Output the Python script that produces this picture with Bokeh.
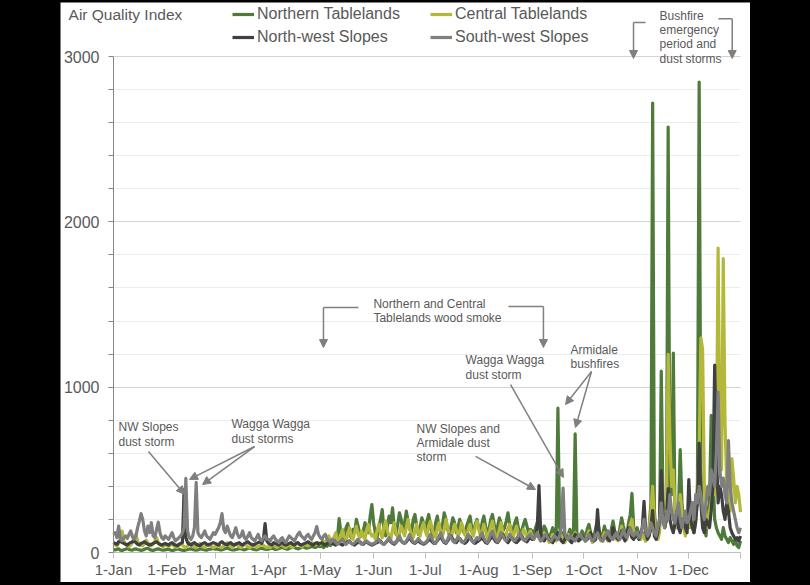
from bokeh.plotting import figure
from bokeh.models import (Range1d, FixedTicker, Legend, LegendItem, Label, Arrow,
                          NormalHead)
from bokeh.embed import file_html
from bokeh.resources import INLINE

# ---------------- data ----------------
MONTH_STARTS = [0, 31, 59, 90, 120, 151, 181, 212, 243, 273, 304, 334]
MONTH_LABELS = ["1-Jan", "1-Feb", "1-Mar", "1-Apr", "1-May", "1-Jun",
                "1-Jul", "1-Aug", "1-Sep", "1-Oct", "1-Nov", "1-Dec"]
YEAR_END = 364
Y_TICKS = [0, 1000, 2000, 3000]

NORTHERN_TABLELANDS = [
    [18,15,20,22,14,12,16,20,25,18,15,14,20,22,18,16,12,15,20,24,26,18,14,12,16,20,22,18,15,14,16],
    [18,20,15,12,14,18,22,20,16,14,12,15,18,20,22,18,15,14,16,20,22,18,16,14,18,20,22,24],
    [20,22,18,15,16,20,24,26,22,18,16,15,18,20,24,22,18,16,20,25,28,24,20,18,16,20,24,26,22,20,18],
    [20,24,26,22,18,20,25,28,30,26,22,20,24,28,32,30,26,22,25,30,34,30,26,28,32,36,34,30,35,40],
    [35,40,30,45,38,50,42,60,55,70,90,205,120,80,100,150,175,110,90,140,120,200,160,110,100,130,180,150,120,220,290],
    [180,120,90,150,200,260,140,100,160,220,180,270,150,110,170,240,200,130,180,250,190,140,120,200,230,160,110,150,210,180],
    [140,190,230,160,120,100,180,220,150,130,170,240,200,140,110,160,210,180,120,150,200,170,130,110,160,190,220,150,120,170,200],
    [150,120,180,220,160,110,140,200,230,170,120,160,210,180,130,150,190,240,170,120,140,180,210,150,110,130,170,200,160,120,140],
    [130,100,150,180,120,90,110,160,140,100,80,120,150,110,90,873,150,100,120,90,80,110,140,100,90,718,120,80,100,130],
    [110,90,140,170,120,80,100,150,200,130,90,110,160,120,80,100,140,190,130,100,90,150,210,160,120,100,180,230,357,150,120],
    [150,100,80,120,90,70,110,160,300,2718,250,120,90,150,1097,300,150,200,2573,400,350,1206,200,150,250,623,300,180,120,200],
    [150,200,300,120,180,400,2845,500,200,150,100,250,300,829,500,200,150,120,100,80,150,100,80,60,90,70,50,80,40,30,70],
]
CENTRAL_TABLELANDS = [
    [60,45,40,55,80,130,70,50,40,35,45,60,90,110,70,50,45,40,55,75,60,45,40,50,70,90,60,45,40,35,45],
    [40,35,45,50,40,35,30,40,55,45,35,30,40,60,50,40,35,30,45,55,40,35,30,40,50,45,35,30],
    [35,40,45,35,30,40,50,60,45,35,30,40,55,45,35,30,40,50,45,35,30,35,45,40,30,35,40,50,45,35,30],
    [35,30,40,45,35,30,40,50,45,35,30,40,45,35,30,40,50,60,45,35,40,50,45,40,50,60,55,45,50,60],
    [50,60,70,55,80,100,70,60,90,120,80,70,100,140,90,70,110,150,100,80,120,160,110,90,130,100,80,140,170,120,100],
    [110,80,130,170,120,90,150,190,130,100,80,140,180,120,90,110,160,130,100,150,200,140,110,90,130,170,120,100,150,180],
    [130,100,160,190,140,110,90,150,180,120,100,140,200,150,110,90,130,170,140,100,120,180,150,110,90,140,170,120,100,150,190],
    [140,100,120,170,130,90,110,160,190,130,100,80,140,180,120,90,110,150,170,120,90,130,160,110,80,100,140,120,90,110,130],
    [100,80,110,130,90,70,90,120,100,80,60,90,110,80,70,90,120,100,80,60,90,110,80,70,100,120,90,70,80,100],
    [90,70,100,130,90,60,80,110,150,100,70,90,120,90,70,80,110,140,100,80,70,110,160,120,90,80,130,170,200,120,100],
    [120,90,80,110,90,70,100,150,250,400,200,100,80,120,300,250,150,300,1198,700,400,500,250,150,200,350,250,150,100,180],
    [200,150,250,300,200,400,600,1299,1228,400,200,150,250,300,400,350,600,1841,700,500,1777,800,400,300,250,568,450,300,400,350,244],
]
NORTH_WEST_SLOPES = [
    [60,55,50,65,70,60,55,50,45,55,60,65,70,60,50,45,55,60,65,55,50,45,50,55,60,65,55,50,45,50,55],
    [50,45,55,60,50,45,40,50,55,60,380,90,60,50,45,55,60,50,45,40,50,55,60,50,45,50,55,60],
    [55,50,45,60,65,55,50,45,55,60,50,45,50,55,60,50,45,55,60,65,55,50,45,50,55,60,65,55,80,175,70],
    [55,50,45,60,55,50,45,55,60,50,45,50,55,60,50,45,55,60,50,45,50,55,60,65,55,50,45,55,60,50],
    [55,60,50,45,55,60,65,55,50,45,55,60,50,45,55,60,65,70,55,50,45,55,60,65,55,50,60,65,55,50,45],
    [50,55,60,65,70,55,50,60,70,80,65,55,50,60,75,85,70,60,55,65,80,90,70,60,55,65,75,60,55,50],
    [55,65,75,80,65,55,60,70,85,95,75,60,55,70,90,100,80,65,60,75,85,70,60,55,65,80,95,75,60,55,65],
    [70,80,90,75,60,55,70,85,100,80,65,60,75,95,110,85,70,60,75,90,80,65,60,70,85,100,80,70,65,80,90],
    [80,90,100,150,405,120,80,70,90,100,80,70,60,80,100,120,90,70,60,80,100,90,70,60,80,110,90,70,80,100],
    [90,70,80,100,120,90,70,80,260,100,80,70,90,110,80,70,100,150,120,90,80,100,130,90,70,110,150,120,90,80,100],
    [100,80,120,150,310,120,80,100,150,254,100,80,120,200,496,250,150,200,387,200,150,120,180,250,150,120,200,180,150,120],
    [441,200,150,120,200,300,661,300,150,120,200,180,150,250,400,1133,600,300,400,350,250,200,300,250,150,120,100,80,90,70,100],
]
SOUTH_WEST_SLOPES = [
    [110,120,90,160,80,70,90,100,85,110,130,95,80,100,150,190,235,200,130,100,160,120,180,100,90,140,183,120,90,80,100],
    [90,80,100,120,90,70,80,90,100,120,150,448,130,90,80,100,150,425,120,100,90,110,130,100,90,80,100,120],
    [110,130,150,180,235,140,120,160,130,100,90,120,150,110,90,100,130,90,80,100,120,90,80,70,90,110,80,70,90,100,80],
    [80,70,90,100,80,70,60,80,90,70,60,80,100,90,80,70,90,110,123,100,90,80,100,110,90,80,100,120,157,110],
    [90,80,100,110,80,70,60,80,70,60,50,60,70,80,60,50,60,70,55,50,60,70,80,60,50,55,65,70,60,55,50],
    [55,60,70,80,65,55,50,60,75,90,70,60,55,65,80,100,75,60,55,70,90,110,80,65,60,70,85,70,60,55],
    [60,70,90,110,80,60,55,75,100,120,85,65,60,80,110,90,70,60,75,95,80,65,60,70,90,110,85,70,60,75,90],
    [80,100,120,90,70,60,80,110,130,95,75,65,85,120,100,80,70,90,110,90,75,70,85,100,120,90,75,70,85,100,110],
    [90,80,100,120,90,70,80,100,110,90,75,70,85,100,90,80,100,150,390,120,90,80,100,90,80,70,90,100,110,90],
    [80,70,90,110,85,70,80,100,120,90,75,70,90,110,130,100,85,80,100,120,90,80,110,140,100,90,120,150,110,100,120],
    [120,90,100,150,200,130,100,120,180,150,120,100,150,200,300,180,150,250,200,350,250,200,180,250,300,200,150,200,250,180],
    [200,250,300,200,350,300,400,350,250,200,300,400,350,500,450,400,600,970,500,400,450,350,300,677,400,300,250,200,150,120,150],
]

SERIES_NAMES = ["Northern Tablelands", "Central Tablelands",
                "North-west Slopes", "South-west Slopes"]
SERIES_COLORS = ["#4e7a3a", "#b4b83a", "#404040", "#7f7f7f"]

# annotation texts (positions in data units: day of year, AQI)
TEXT_NOTES = [
    ("Bushfire\nemergency\nperiod and\ndust storms", 317.0, 3290),
    ("Northern and Central\nTablelands wood smoke", 150.9, 1548),
    ("NW Slopes\ndust storm", 2.9, 799),
    ("Wagga Wagga\ndust storms", 68.5, 817),
    ("NW Slopes and\nArmidale dust\nstorm", 175.9, 792),
    ("Wagga Wagga\ndust storm", 204.4, 1204),
    ("Armidale\nbushfires", 265.3, 1270),
]
# bracket pieces: (x0, y0, x1, y1, has_head)
NOTE_LINES = [
    (308.9, 3206, 301.9, 3206, False), (301.9, 3206, 301.9, 2988, True),
    (351.2, 3228, 359.2, 3228, False), (359.2, 3228, 359.2, 2988, True),
    (142.2, 1482, 121.9, 1482, False), (121.9, 1482, 121.9, 1240, True),
    (229.3, 1488, 249.6, 1488, False), (249.6, 1488, 249.6, 1240, True),
    (20.3, 611, 41.2, 352, True),
    (81.9, 641, 44.1, 442, True), (81.9, 641, 51.7, 411, True),
    (210.2, 581, 245.0, 381, True),
    (230.5, 1016, 261.2, 454, True),
    (277.5, 1095, 262.4, 895, True), (277.5, 1095, 268.2, 756, True),
]

# ---------------- plot ----------------
FONT = "Liberation Sans"
TXT = "#595959"
W, H = 690, 580
LEFT_PAD, RIGHT_PAD = 53, 10            # px from figure edge to day 0 / day 364
TOP_PAD, BOTTOM_PAD = 54, 30            # px from figure edge to AQI 3000 / AQI 0
PX_PER_DAY = (W - LEFT_PAD - RIGHT_PAD) / YEAR_END
PX_PER_UNIT = (H - TOP_PAD - BOTTOM_PAD) / 3000.0

p = figure(width=W, height=H, output_backend="svg", toolbar_location=None,
           x_range=Range1d(-LEFT_PAD / PX_PER_DAY, YEAR_END + RIGHT_PAD / PX_PER_DAY),
           y_range=Range1d(-BOTTOM_PAD / PX_PER_UNIT, 3000 + TOP_PAD / PX_PER_UNIT),
           min_border_left=0, min_border_right=0, min_border_top=0,
           min_border_bottom=0, background_fill_color="white",
           border_fill_color="white", outline_line_color=None)


def flatten(months):
    xs, ys = [], []
    for start, vals in zip(MONTH_STARTS, months):
        for i, v in enumerate(vals):
            xs.append(start + i)
            ys.append(v)
    return xs, ys


# grid lines limited to the year span
p.xgrid.visible = False
grid_ok = False
try:
    p.ygrid.cross_bounds = (0, YEAR_END)
    grid_ok = True
except Exception:
    grid_ok = False
p.ygrid.ticker = FixedTicker(ticks=Y_TICKS, minor_ticks=list(range(200, 3000, 200)))
p.ygrid.grid_line_color = "#d4d4d4"
p.ygrid.minor_grid_line_color = "#ececec"
if not grid_ok:
    p.ygrid.visible = False
    minor = [t for t in range(200, 3000, 200) if t not in Y_TICKS]
    p.segment(x0=0, x1=YEAR_END, y0=minor, y1=minor, line_color="#ececec", level="underlay")
    p.segment(x0=0, x1=YEAR_END, y0=Y_TICKS[1:], y1=Y_TICKS[1:], line_color="#d4d4d4",
              level="underlay")

renderers = []
for data, color in zip([NORTHERN_TABLELANDS, CENTRAL_TABLELANDS,
                        NORTH_WEST_SLOPES, SOUTH_WEST_SLOPES], SERIES_COLORS):
    xs, ys = flatten(data)
    r = p.line(xs, ys, line_color=color, line_width=3.2, line_join="round")
    renderers.append(r)

# axes
xa = p.xaxis[0]
xa.fixed_location = 0
xa.ticker = FixedTicker(ticks=MONTH_STARTS + [YEAR_END], minor_ticks=[])
overrides = {s: lab for s, lab in zip(MONTH_STARTS, MONTH_LABELS)}
overrides[YEAR_END] = ""
xa.major_label_overrides = overrides
xa.bounds = (0, YEAR_END)
xa.axis_line_color = "#bfbfbf"
xa.major_tick_line_color = "#bfbfbf"
xa.major_tick_out = 6
xa.major_tick_in = 0
xa.minor_tick_line_color = None
xa.major_label_standoff = 2
xa.major_label_text_font = FONT
xa.major_label_text_font_size = "15px"
xa.major_label_text_color = TXT

ya = p.yaxis[0]
ya.fixed_location = 0
ya.ticker = FixedTicker(ticks=Y_TICKS, minor_ticks=list(range(200, 3000, 200)))
ya.bounds = (0, 3000)
ya.axis_line_color = "#868686"
ya.major_tick_line_color = "#868686"
ya.minor_tick_line_color = "#868686"
ya.major_tick_out = 5
ya.major_tick_in = 0
ya.minor_tick_out = 5
ya.minor_tick_in = 0
ya.major_label_standoff = 9
ya.major_label_text_font = FONT
ya.major_label_text_font_size = "16px"
ya.major_label_text_color = TXT

# legend (two columns)
for idxs, vx in (([0, 2], 172), ([1, 3], 370)):
    leg = Legend(items=[LegendItem(label=SERIES_NAMES[i], renderers=[renderers[i]]) for i in idxs],
                 location=(vx, 535), orientation="vertical",
                 glyph_width=22, glyph_height=20, label_height=20, spacing=3,
                 label_standoff=3, padding=0, margin=0,
                 border_line_color=None, background_fill_alpha=0,
                 label_text_font=FONT, label_text_font_size="16px",
                 label_text_color=TXT)
    p.add_layout(leg)

p.add_layout(Label(x=-26.1, y=3255, text="Air Quality Index", text_font=FONT,
                   text_font_size="15.5px", text_color=TXT, text_baseline="middle",
                   text_align="left"))

for text, x, y in TEXT_NOTES:
    p.add_layout(Label(x=x, y=y, text=text, text_font=FONT, text_font_size="12px",
                       text_color=TXT, text_baseline="top", text_align="left",
                       text_line_height=1.03))

for x0, y0, x1, y1, head in NOTE_LINES:
    end = NormalHead(size=8, fill_color="#7f7f7f", line_color="#7f7f7f") if head else None
    p.add_layout(Arrow(x_start=x0, y_start=y0, x_end=x1, y_end=y1, end=end,
                       line_color="#808080", line_width=1.5))

html = file_html(p, INLINE, title="Air Quality Index")
html = html.replace("</head>",
                    "<style>html,body{background:#000;margin:0;padding:0;}"
                    "body{padding:2px 0 0 60px;}</style></head>", 1)
with open("out.html", "w") as f:
    f.write(html)
